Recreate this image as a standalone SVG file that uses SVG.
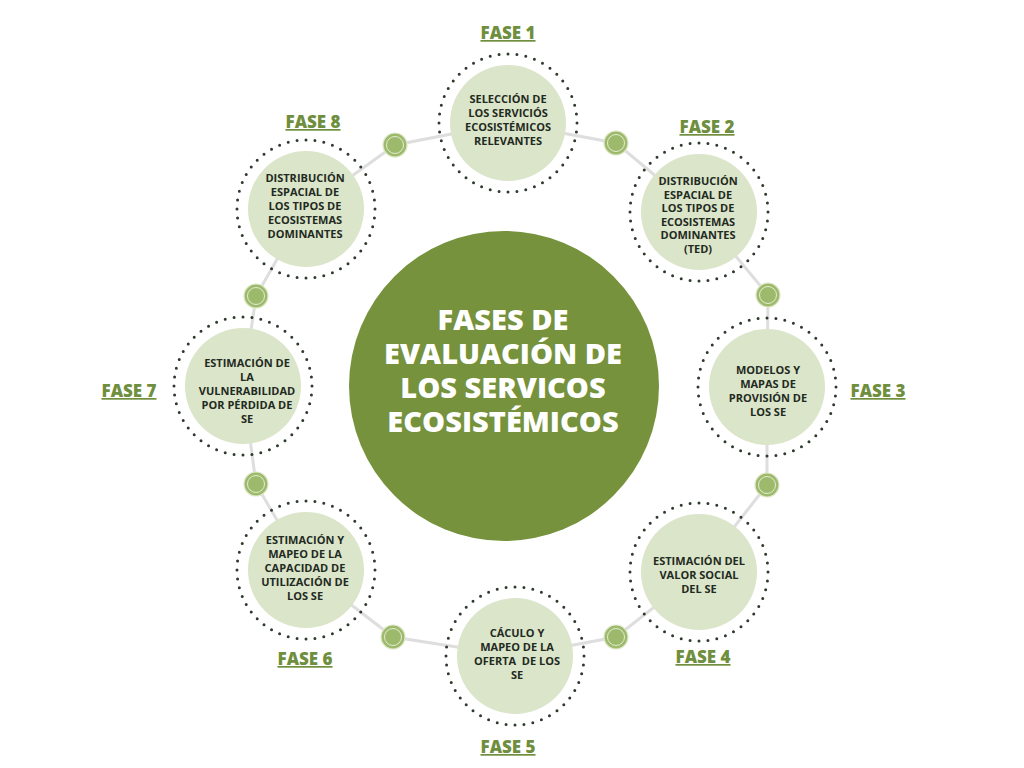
<svg xmlns="http://www.w3.org/2000/svg" width="1024" height="768" viewBox="0 0 1024 768">
<defs>
<style>
.link{stroke:#dedede;stroke-width:3;fill:none}
.dot{fill:#9db96c;stroke:#dfe9c9;stroke-width:1.2}
.in{fill:none;stroke:#e3ecd0;stroke-width:1}
.ring{fill:none;stroke:#2e3a2e;stroke-width:3;stroke-linecap:round;stroke-dasharray:0 1}
.fill{fill:#dbe5c9}
.nt{font-family:"Open Sans","Liberation Sans",sans-serif;font-weight:700;font-size:11px;fill:#1f2a22;text-anchor:middle}
.lbl{font-family:"Open Sans","Liberation Sans",sans-serif;font-weight:800;font-size:17px;fill:#6f8f3e;text-anchor:middle;text-decoration:underline}
.title{font-family:"Open Sans","Liberation Sans",sans-serif;font-weight:800;font-size:29px;fill:#ffffff;text-anchor:middle}
</style>
</defs>
<rect width="1024" height="768" fill="#ffffff"/>
<g id="connectors">
<polyline class="link" points="508,123 616,143 699,212 768,295 767,387 767,485 699,572 616,637 515,656 393,637 306,570 256,484 243,386 256,296 306,209 395,145 508,123"/>
<circle class="dot" cx="616" cy="143" r="12"/><circle class="in" cx="616" cy="143" r="8.5"/>
<circle class="dot" cx="768" cy="295" r="12"/><circle class="in" cx="768" cy="295" r="8.5"/>
<circle class="dot" cx="767" cy="485" r="12"/><circle class="in" cx="767" cy="485" r="8.5"/>
<circle class="dot" cx="616" cy="637" r="12"/><circle class="in" cx="616" cy="637" r="8.5"/>
<circle class="dot" cx="393" cy="637" r="12"/><circle class="in" cx="393" cy="637" r="8.5"/>
<circle class="dot" cx="256" cy="484" r="12"/><circle class="in" cx="256" cy="484" r="8.5"/>
<circle class="dot" cx="256" cy="296" r="12"/><circle class="in" cx="256" cy="296" r="8.5"/>
<circle class="dot" cx="395" cy="145" r="12"/><circle class="in" cx="395" cy="145" r="8.5"/>
</g>
<g id="center">
<circle cx="504" cy="386" r="155" fill="#76923c"/>
<text class="title"><tspan x="503" y="330">FASES DE</tspan><tspan x="503" y="364">EVALUACIÓN DE</tspan><tspan x="503" y="398">LOS SERVICOS</tspan><tspan x="503" y="432">ECOSISTÉMICOS </tspan></text>
</g>
<g id="fase1">
<circle class="fill" cx="508" cy="123" r="58"/>
<circle class="ring" cx="508" cy="123" r="69" pathLength="48"/>
<text class="nt"><tspan x="508" y="103">SELECCIÓN DE</tspan><tspan x="508" y="117">LOS SERVICIÓS</tspan><tspan x="508" y="131">ECOSISTÉMICOS</tspan><tspan x="508" y="145">RELEVANTES</tspan></text>
<text class="lbl" x="508" y="39">FASE 1</text>
</g>
<g id="fase2">
<circle class="fill" cx="699" cy="212" r="58"/>
<circle class="ring" cx="699" cy="212" r="69" pathLength="48"/>
<text class="nt"><tspan x="698" y="185">DISTRIBUCIÓN</tspan><tspan x="698" y="199">ESPACIAL DE</tspan><tspan x="698" y="212">LOS TIPOS DE</tspan><tspan x="698" y="226">ECOSISTEMAS</tspan><tspan x="698" y="239">DOMINANTES</tspan><tspan x="698" y="253">(TED)</tspan></text>
<text class="lbl" x="707" y="133">FASE 2</text>
</g>
<g id="fase3">
<circle class="fill" cx="767" cy="387" r="58"/>
<circle class="ring" cx="767" cy="387" r="69" pathLength="48"/>
<text class="nt"><tspan x="768" y="374">MODELOS Y</tspan><tspan x="768" y="388">MAPAS DE</tspan><tspan x="768" y="402">PROVISIÓN DE</tspan><tspan x="768" y="416">LOS SE</tspan></text>
<text class="lbl" x="878" y="397">FASE 3</text>
</g>
<g id="fase4">
<circle class="fill" cx="699" cy="572" r="58"/>
<circle class="ring" cx="699" cy="572" r="69" pathLength="48"/>
<text class="nt"><tspan x="699" y="565">ESTIMACIÓN DEL</tspan><tspan x="699" y="579">VALOR SOCIAL</tspan><tspan x="699" y="593">DEL SE</tspan></text>
<text class="lbl" x="703" y="663">FASE 4</text>
</g>
<g id="fase5">
<circle class="fill" cx="515" cy="656" r="58"/>
<circle class="ring" cx="515" cy="656" r="69" pathLength="48"/>
<text class="nt"><tspan x="517" y="637">CÁCULO Y</tspan><tspan x="517" y="651">MAPEO DE LA</tspan><tspan x="517" y="665" xml:space="preserve">OFERTA  DE LOS</tspan><tspan x="517" y="679">SE</tspan></text>
<text class="lbl" x="508" y="753">FASE 5</text>
</g>
<g id="fase6">
<circle class="fill" cx="306" cy="570" r="58"/>
<circle class="ring" cx="306" cy="570" r="69" pathLength="48"/>
<text class="nt"><tspan x="305" y="544">ESTIMACIÓN Y</tspan><tspan x="305" y="558">MAPEO DE LA</tspan><tspan x="305" y="572">CAPACIDAD DE</tspan><tspan x="305" y="586">UTILIZACIÓN DE</tspan><tspan x="305" y="600">LOS SE</tspan></text>
<text class="lbl" x="305" y="665">FASE 6</text>
</g>
<g id="fase7">
<circle class="fill" cx="243" cy="386" r="58"/>
<circle class="ring" cx="243" cy="386" r="69" pathLength="48"/>
<text class="nt"><tspan x="247" y="367">ESTIMACIÓN DE</tspan><tspan x="247" y="381">LA</tspan><tspan x="247" y="395">VULNERABILIDAD</tspan><tspan x="247" y="409">POR PÉRDIDA DE</tspan><tspan x="247" y="423">SE</tspan></text>
<text class="lbl" x="129" y="397">FASE 7</text>
</g>
<g id="fase8">
<circle class="fill" cx="306" cy="209" r="58"/>
<circle class="ring" cx="306" cy="209" r="69" pathLength="48"/>
<text class="nt"><tspan x="305" y="182">DISTRIBUCIÓN</tspan><tspan x="305" y="196">ESPACIAL DE</tspan><tspan x="305" y="210">LOS TIPOS DE</tspan><tspan x="305" y="224">ECOSISTEMAS</tspan><tspan x="305" y="238">DOMINANTES</tspan></text>
<text class="lbl" x="313" y="128">FASE 8</text>
</g>
</svg>
